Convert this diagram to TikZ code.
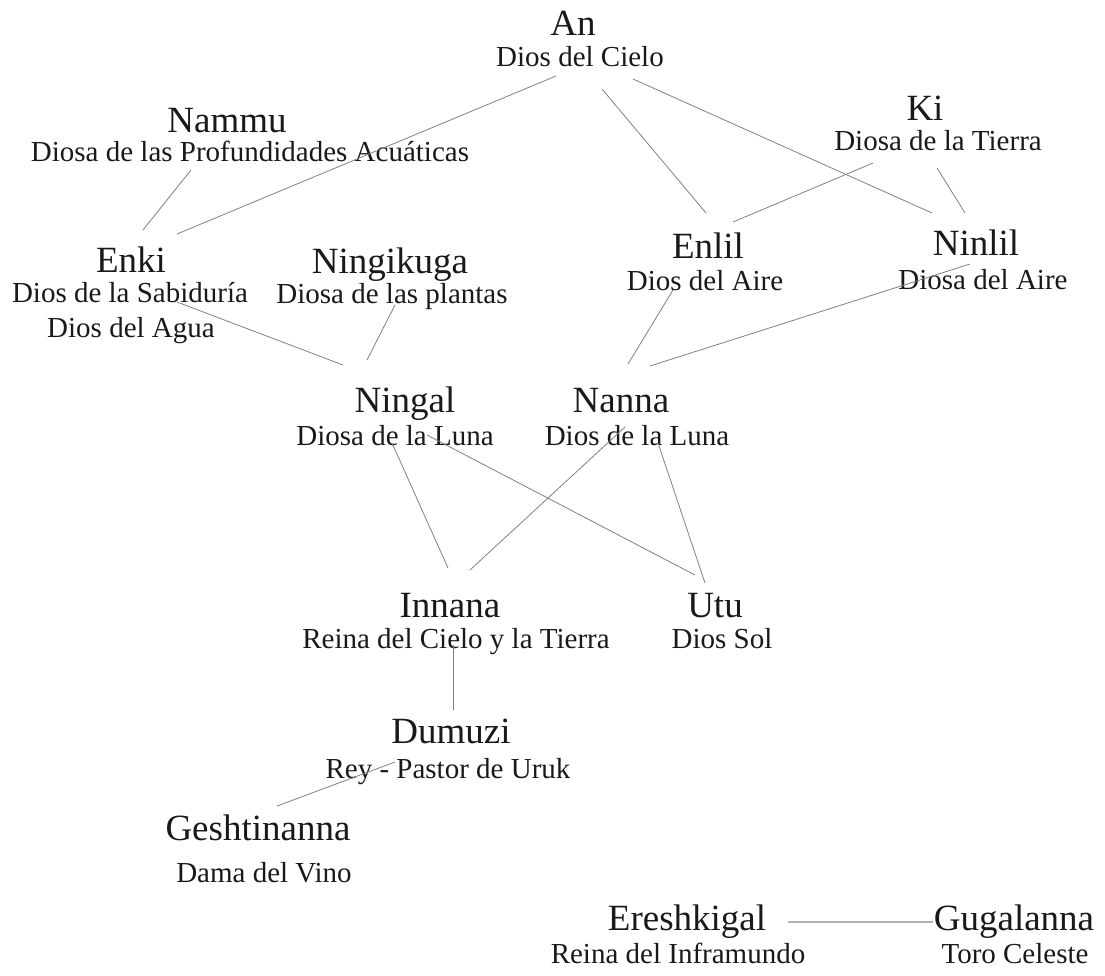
\documentclass[tikz,border=0pt]{standalone}
\usepackage{fontspec}
\setmainfont{Liberation Serif}
\begin{document}
\begin{tikzpicture}[x=1pt,y=-1pt,
  god/.style={anchor=base, inner sep=0pt, text=black!90, font=\fontsize{37}{40}\selectfont},
  role/.style={anchor=base, inner sep=0pt, text=black!90, font=\fontsize{29}{32}\selectfont},
  link/.style={draw=black!50, line width=0.8pt},
  biglink/.style={draw=black!30, line width=1.6pt}]
\useasboundingbox (0,0) rectangle (1105,975);
% names and roles
\node[god]  (An)   at (573,35)  {An};
\node[role] (AnR)  at (580,66)  {Dios del Cielo};
\node[god]  (Nammu) at (227,132) {Nammu};
\node[role] (NammuR) at (250,161) {Diosa de las Profundidades Acuáticas};
\node[god]  (Ki)   at (925,120) {Ki};
\node[role] (KiR)  at (938,150) {Diosa de la Tierra};
\node[god]  (Enki) at (131,272) {Enki};
\node[role] (EnkiR) at (130,302) {Dios de la Sabiduría};
\node[role] (EnkiR2) at (131,337) {Dios del Agua};
\node[god]  (Ningikuga) at (390,273) {Ningikuga};
\node[role] (NingikugaR) at (392,303) {Diosa de las plantas};
\node[god]  (Enlil) at (708,258) {Enlil};
\node[role] (EnlilR) at (705,290) {Dios del Aire};
\node[god]  (Ninlil) at (976,255) {Ninlil};
\node[role] (NinlilR) at (983,289) {Diosa del Aire};
\node[god]  (Ningal) at (405,412) {Ningal};
\node[role] (NingalR) at (395,445) {Diosa de la Luna};
\node[god]  (Nanna) at (621,412) {Nanna};
\node[role] (NannaR) at (637,445) {Dios de la Luna};
\node[god]  (Innana) at (450,617) {Innana};
\node[role] (InnanaR) at (456,648) {Reina del Cielo y la Tierra};
\node[god]  (Utu) at (715,617) {Utu};
\node[role] (UtuR) at (722,648) {Dios Sol};
\node[god]  (Dumuzi) at (451,743) {Dumuzi};
\node[role] (DumuziR) at (448,778) {Rey - Pastor de Uruk};
\node[god]  (Gesh) at (258,840) {Geshtinanna};
\node[role] (GeshR) at (264,882) {Dama del Vino};
\node[god]  (Eresh) at (687,930) {Ereshkigal};
\node[role] (EreshR) at (678,963) {Reina del Inframundo};
\node[god]  (Guga) at (1014,930) {Gugalanna};
\node[role] (GugaR) at (1015,963) {Toro Celeste};
% connector end points
\coordinate (An1) at (556,76);   \coordinate (Enki1) at (177,234);
\coordinate (An2) at (602,89);   \coordinate (Enlil1) at (706,213);
\coordinate (An3) at (633,79);   \coordinate (Ninlil1) at (932,213);
\coordinate (Nammu1) at (191,170); \coordinate (Enki2) at (143,230);
\coordinate (Ki1) at (873,163);  \coordinate (Enlil2) at (733,222);
\coordinate (Ki2) at (937,168);  \coordinate (Ninlil2) at (965,213);
\coordinate (Enki3) at (177,302); \coordinate (Ningal1) at (343,365);
\coordinate (Ningikuga1) at (395,305); \coordinate (Ningal2) at (367,360);
\coordinate (Enlil3) at (673,290); \coordinate (Nanna1) at (628,364);
\coordinate (Ninlil3) at (970,264); \coordinate (Nanna2) at (650,366);
\coordinate (Ningal3) at (392,443); \coordinate (Innana1) at (448,568);
\coordinate (Ningal4) at (427,435); \coordinate (Utu1) at (695,575);
\coordinate (Nanna3) at (625,427); \coordinate (Innana2) at (470,570);
\coordinate (Nanna4) at (658,443); \coordinate (Utu2) at (705,583);
\coordinate (Innana3) at (453,645); \coordinate (Dumuzi1) at (453,710);
\coordinate (Dumuzi2) at (395,762); \coordinate (Gesh1) at (277,806);
\coordinate (Eresh1) at (788,922); \coordinate (Guga1) at (933,922);
% connectors
\draw[link] (An1) -- (Enki1);
\draw[link] (An2) -- (Enlil1);
\draw[link] (An3) -- (Ninlil1);
\draw[link] (Nammu1) -- (Enki2);
\draw[link] (Ki1) -- (Enlil2);
\draw[link] (Ki2) -- (Ninlil2);
\draw[link] (Enki3) -- (Ningal1);
\draw[link] (Ningikuga1) -- (Ningal2);
\draw[link] (Enlil3) -- (Nanna1);
\draw[link] (Ninlil3) -- (Nanna2);
\draw[link] (Ningal3) -- (Innana1);
\draw[link] (Ningal4) -- (Utu1);
\draw[link] (Nanna3) -- (Innana2);
\draw[link] (Nanna4) -- (Utu2);
\draw[link] (Innana3) -- (Dumuzi1);
\draw[link] (Dumuzi2) -- (Gesh1);
\draw[biglink] (Eresh1) -- (Guga1);
\end{tikzpicture}
\end{document}
